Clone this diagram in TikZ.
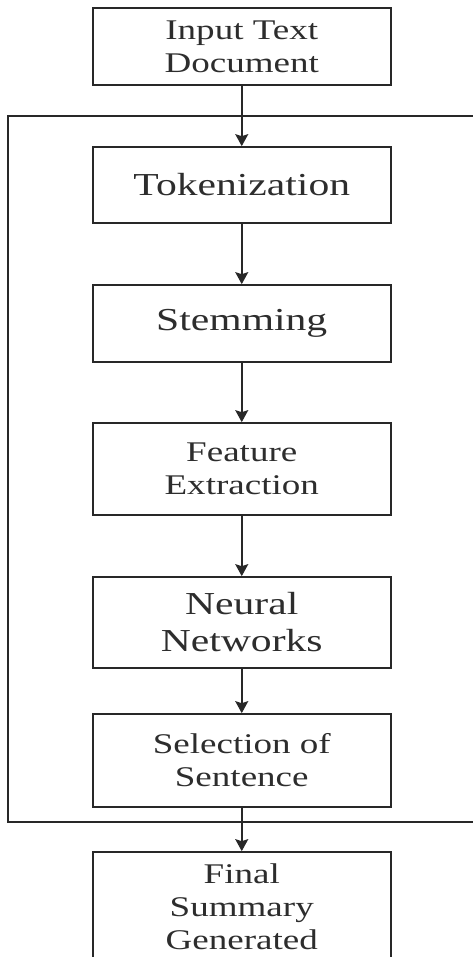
\documentclass[tikz,border=0pt]{standalone}
\usepackage{fontspec}
\setmainfont{Liberation Serif}[FakeStretch=1.3]
\usepackage{tikz}
\usetikzlibrary{arrows.meta}
\definecolor{boxline}{RGB}{40,40,40}
\definecolor{boxtext}{RGB}{45,45,45}

\begin{document}
\begin{tikzpicture}[x=1pt, y=-1pt,
    stage/.style={draw=boxline, line width=1.7pt, minimum width=298pt, inner sep=0pt,
        align=center, text=boxtext},
    small/.style={font=\fontsize{28.5}{33}\selectfont},
    big/.style={font=\fontsize{32}{37}\selectfont},
    flow/.style={draw=boxline, line width=1.6pt, -{Stealth[length=12pt, width=13pt, inset=2pt]}}]
                \useasboundingbox (0,0) rectangle (473,957);

                % Outer frame
                \draw[boxline, line width=1.6pt] (480,116) -- (7.7,116) -- (7.7,822) -- (480,822);

                % Stages
                \node[stage, small, minimum height=77pt] (input) at (241.75,46.5) {Input Text\\Document};
                \node[stage, big, minimum height=76pt] (token) at (241.75,185) {Tokenization};
                \node[stage, big, minimum height=77pt] (stem) at (241.75,323.5) {Stemming};
                \node[stage, small, minimum height=92pt] (feature) at (241.75,469) {Feature\\Extraction};
                \node[stage, big, minimum height=91pt] (neural) at (241.75,622.5) {Neural\\Networks};
                \node[stage, small, minimum height=93pt] (select) at (241.75,760.5) {Selection of\\Sentence};
                \node[stage, small, minimum height=110pt] (final) at (241.75,907) {Final\\Summary\\Generated};

                % Arrows
                \draw[flow] (input) -- (token);
                \draw[flow] (token) -- (stem);
                \draw[flow] (stem) -- (feature);
                \draw[flow] (feature) -- (neural);
                \draw[flow] (neural) -- (select);
                \draw[flow] (select) -- (final);
            \end{tikzpicture}
\end{document}
